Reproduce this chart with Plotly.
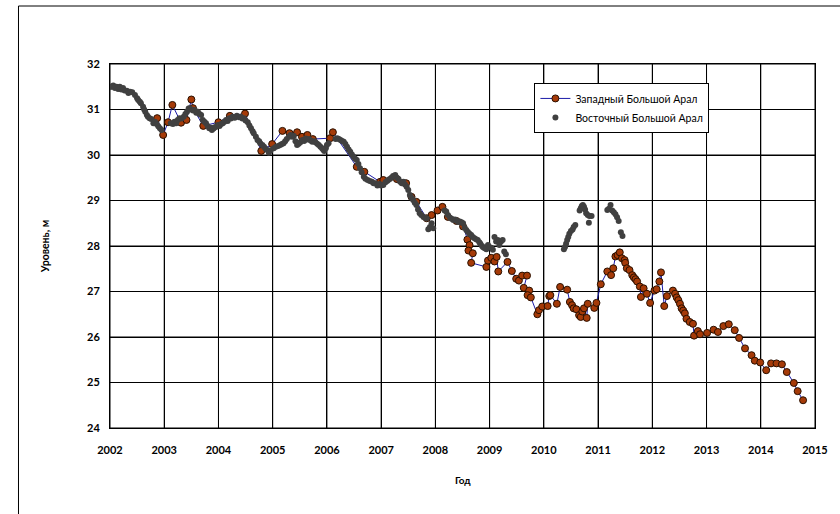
import plotly.graph_objects as go

# Западный Большой Арал: date (decimal year) and water level, m
west_year = [
    2002.87, 2002.98, 2003.07, 2003.15, 2003.31, 2003.41, 2003.50, 2003.53, 2003.72, 2004.00,
    2004.21, 2004.49, 2004.79, 2004.99, 2005.18, 2005.31, 2005.45, 2005.54, 2005.64, 2005.74,
    2006.06, 2006.11, 2006.55, 2006.69, 2006.98, 2007.04, 2007.29, 2007.46, 2007.56, 2007.65,
    2007.84, 2007.93, 2008.04, 2008.13, 2008.23, 2008.39, 2008.51, 2008.59, 2008.63, 2008.61,
    2008.69, 2008.66, 2008.94, 2008.97, 2009.03, 2009.09, 2009.13, 2009.16, 2009.33, 2009.41,
    2009.49, 2009.54, 2009.60, 2009.69, 2009.63, 2009.73, 2009.70, 2009.76, 2009.88, 2009.91,
    2009.97, 2010.07, 2010.10, 2010.12, 2010.24, 2010.30, 2010.43, 2010.48, 2010.52, 2010.55,
    2010.60, 2010.65, 2010.68, 2010.71, 2010.74, 2010.79, 2010.81, 2010.93, 2010.97, 2011.05,
    2011.17, 2011.24, 2011.28, 2011.32, 2011.36, 2011.40, 2011.44, 2011.49, 2011.50, 2011.53,
    2011.58, 2011.63, 2011.66, 2011.69, 2011.72, 2011.77, 2011.79, 2011.84, 2011.90, 2011.96,
    2012.04, 2012.08, 2012.13, 2012.16, 2012.22, 2012.27, 2012.38, 2012.42, 2012.45, 2012.48,
    2012.51, 2012.54, 2012.57, 2012.60, 2012.63, 2012.69, 2012.75, 2012.77, 2012.84, 2012.88,
    2013.01, 2013.13, 2013.21, 2013.31, 2013.41, 2013.52, 2013.60, 2013.71, 2013.83, 2013.89,
    2013.99, 2014.10, 2014.19, 2014.29, 2014.39, 2014.48, 2014.61, 2014.68, 2014.78,
]
west_level = [
    30.81, 30.44, 30.72, 31.10, 30.71, 30.77, 31.22, 31.03, 30.64, 30.72,
    30.86, 30.91, 30.09, 30.24, 30.53, 30.48, 30.50, 30.40, 30.44, 30.35,
    30.37, 30.50, 29.74, 29.63, 29.41, 29.45, 29.47, 29.38, 29.08, 28.97,
    28.61, 28.68, 28.78, 28.86, 28.64, 28.55, 28.43, 28.14, 28.02, 27.90,
    27.84, 27.63, 27.54, 27.68, 27.74, 27.66, 27.76, 27.44, 27.65, 27.45,
    27.28, 27.24, 27.35, 27.35, 27.08, 27.02, 26.92, 26.87, 26.50, 26.59,
    26.67, 26.68, 26.90, 26.92, 26.73, 27.10, 27.04, 26.77, 26.70, 26.63,
    26.61, 26.48, 26.44, 26.56, 26.63, 26.42, 26.73, 26.64, 26.75, 27.16,
    27.44, 27.36, 27.51, 27.77, 27.80, 27.86, 27.73, 27.69, 27.63, 27.51,
    27.47, 27.36, 27.31, 27.27, 27.22, 27.11, 26.88, 27.07, 26.95, 26.75,
    27.02, 27.05, 27.22, 27.42, 26.68, 26.90, 27.02, 26.95, 26.87, 26.81,
    26.73, 26.63, 26.58, 26.52, 26.40, 26.33, 26.29, 26.03, 26.13, 26.06,
    26.09, 26.16, 26.11, 26.24, 26.28, 26.15, 25.98, 25.75, 25.60, 25.48,
    25.44, 25.27, 25.42, 25.42, 25.40, 25.23, 24.99, 24.81, 24.61,
]

# Восточный Большой Арал: date (decimal year) and water level, m
east_year = [
    2002.00, 2002.03, 2002.06, 2002.09, 2002.12, 2002.15, 2002.18, 2002.21, 2002.24, 2002.27,
    2002.31, 2002.34, 2002.37, 2002.41, 2002.46, 2002.50, 2002.52, 2002.55, 2002.57, 2002.61,
    2002.63, 2002.65, 2002.68, 2002.70, 2002.73, 2002.76, 2002.80, 2002.83, 2002.86, 2002.89,
    2002.92, 2002.95, 2003.12, 2003.16, 2003.19, 2003.22, 2003.25, 2003.28, 2003.32, 2003.36,
    2003.39, 2003.42, 2003.45, 2003.47, 2003.50, 2003.53, 2003.56, 2003.59, 2003.62, 2003.65,
    2003.68, 2003.71, 2003.74, 2003.77, 2003.80, 2003.83, 2003.86, 2003.88, 2003.91, 2003.93,
    2003.96, 2003.99, 2004.02, 2004.05, 2004.08, 2004.11, 2004.14, 2004.17, 2004.20, 2004.23,
    2004.26, 2004.30, 2004.34, 2004.38, 2004.41, 2004.44, 2004.47, 2004.50, 2004.54, 2004.57,
    2004.60, 2004.63, 2004.65, 2004.69, 2004.72, 2004.75, 2004.77, 2004.81, 2004.84, 2004.87,
    2004.90, 2004.93, 2004.96, 2005.02, 2005.06, 2005.10, 2005.14, 2005.17, 2005.20, 2005.23,
    2005.26, 2005.30, 2005.33, 2005.36, 2005.39, 2005.42, 2005.45, 2005.48, 2005.51, 2005.55,
    2005.58, 2005.61, 2005.64, 2005.67, 2005.70, 2005.73, 2005.76, 2005.79, 2005.82, 2005.85,
    2005.88, 2005.91, 2005.93, 2005.95, 2005.98, 2006.00, 2006.03, 2006.16, 2006.19, 2006.22,
    2006.25, 2006.28, 2006.31, 2006.34, 2006.37, 2006.40, 2006.43, 2006.46, 2006.49, 2006.52,
    2006.55, 2006.58, 2006.61, 2006.64, 2006.68, 2006.71, 2006.75, 2006.79, 2006.83, 2006.86,
    2006.89, 2006.93, 2006.97, 2007.00, 2007.04, 2007.08, 2007.11, 2007.13, 2007.16, 2007.19,
    2007.22, 2007.26, 2007.29, 2007.32, 2007.35, 2007.38, 2007.41, 2007.44, 2007.47, 2007.50,
    2007.53, 2007.56, 2007.59, 2007.62, 2007.65, 2007.68, 2007.71, 2007.74, 2007.78, 2007.81,
    2007.84, 2007.87, 2007.90, 2007.93, 2007.96, 2008.17, 2008.20, 2008.23, 2008.27, 2008.30,
    2008.33, 2008.36, 2008.39, 2008.42, 2008.45, 2008.48, 2008.51, 2008.54, 2008.57, 2008.60,
    2008.63, 2008.66, 2008.69, 2008.72, 2008.75, 2008.78, 2008.81, 2008.83, 2008.86, 2008.88,
    2008.91, 2008.94, 2008.97, 2009.00, 2009.03, 2009.06, 2009.09, 2009.12, 2009.15, 2009.18,
    2009.21, 2009.24, 2009.27, 2009.30,
    2010.37, 2010.39, 2010.41, 2010.43, 2010.45, 2010.47, 2010.50, 2010.53, 2010.55, 2010.58,
    2010.66, 2010.68, 2010.70, 2010.72, 2010.74, 2010.76, 2010.78, 2010.81, 2010.84, 2010.88,
    2010.83, 2011.17, 2011.20, 2011.23, 2011.26, 2011.29, 2011.32, 2011.35, 2011.38, 2011.42,
    2011.45,
]
east_level = [
    31.50, 31.50, 31.53, 31.47, 31.50, 31.45, 31.50, 31.44, 31.47, 31.42,
    31.41, 31.36, 31.39, 31.38, 31.32, 31.25, 31.21, 31.17, 31.14, 31.06,
    31.00, 30.95, 30.88, 30.84, 30.81, 30.79, 30.70, 30.73, 30.68, 30.63,
    30.59, 30.55, 30.70, 30.68, 30.73, 30.70, 30.77, 30.81, 30.80, 30.84,
    30.90, 30.95, 31.02, 31.03, 31.00, 30.98, 30.99, 30.93, 30.95, 30.90,
    30.88, 30.77, 30.73, 30.70, 30.64, 30.59, 30.60, 30.55, 30.58, 30.61,
    30.62, 30.66, 30.64, 30.68, 30.70, 30.73, 30.77, 30.75, 30.81, 30.80,
    30.84, 30.82, 30.86, 30.83, 30.84, 30.80, 30.81, 30.76, 30.72, 30.65,
    30.59, 30.52, 30.48, 30.40, 30.33, 30.30, 30.26, 30.22, 30.18, 30.14,
    30.11, 30.05, 30.10, 30.15, 30.18, 30.20, 30.22, 30.24, 30.26, 30.30,
    30.35, 30.40, 30.44, 30.40, 30.42, 30.30, 30.22, 30.25, 30.28, 30.33,
    30.31, 30.36, 30.34, 30.35, 30.32, 30.29, 30.30, 30.28, 30.25, 30.22,
    30.18, 30.15, 30.12, 30.09, 30.15, 30.22, 30.26, 30.35, 30.37, 30.35,
    30.33, 30.31, 30.29, 30.24, 30.18, 30.12, 30.07, 30.01, 29.96, 29.92,
    29.89, 29.80, 29.71, 29.62, 29.52, 29.48, 29.45, 29.43, 29.41, 29.38,
    29.38, 29.33, 29.36, 29.33, 29.34, 29.40, 29.43, 29.45, 29.47, 29.50,
    29.54, 29.56, 29.50, 29.47, 29.41, 29.38, 29.41, 29.35, 29.30, 29.23,
    29.12, 29.06, 29.01, 28.95, 28.90, 28.80, 28.72, 28.68, 28.64, 28.62,
    28.61, 28.37, 28.42, 28.50, 28.39, 28.78, 28.76, 28.68, 28.62, 28.60,
    28.57, 28.58, 28.56, 28.53, 28.54, 28.52, 28.50, 28.40, 28.35, 28.31,
    28.27, 28.24, 28.20, 28.17, 28.15, 28.13, 28.08, 28.05, 28.00, 27.97,
    27.95, 27.93, 28.02, 27.97, 27.96, 27.92, 28.20, 28.10, 28.13, 28.02,
    28.10, 28.13, 27.88, 27.82,
    27.93, 27.98, 28.05, 28.13, 28.20, 28.27, 28.33, 28.36, 28.42, 28.46,
    28.78, 28.83, 28.88, 28.90, 28.86, 28.80, 28.72, 28.68, 28.66, 28.66,
    28.51, 28.79, 28.82, 28.90, 28.78, 28.74, 28.70, 28.63, 28.55, 28.30,
    28.22,
]

year_ticks = list(range(2002, 2016))
level_ticks = list(range(24, 33))

FONT = "Lato"
GRID = "#000000"

fig = go.Figure()

fig.add_trace(go.Scatter(
    x=west_year, y=west_level,
    mode="lines+markers",
    name="Западный Большой Арал",
    legendgroup="west",
    line=dict(color="#1a1aa8", width=1),
    marker=dict(size=7, color="#a53a08", line=dict(color="#2a1000", width=1)),
))

fig.add_trace(go.Scatter(
    x=east_year, y=east_level,
    mode="markers",
    name="Восточный Большой Арал",
    legendgroup="east",
    marker=dict(size=6, color="#404040"),
))

axis_common = dict(
    showgrid=True,
    gridcolor=GRID,
    gridwidth=1,
    showline=True,
    linecolor="#000000",
    linewidth=1,
    mirror=True,
    zeroline=False,
    ticks="",
    tickfont=dict(family=FONT, size=11, color="#000000", weight="bold"),
)

fig.update_xaxes(
    range=[2002, 2015],
    tickmode="array",
    tickvals=year_ticks,
    ticktext=[str(y) for y in year_ticks],
    ticklabelstandoff=12,
    **axis_common,
)
fig.update_yaxes(
    range=[24, 32],
    tickmode="array",
    tickvals=level_ticks,
    ticktext=[str(v) for v in level_ticks],
    ticklabelstandoff=7,
    **axis_common,
)

# grid: one vertical line per year tick, one horizontal line per level tick
for yr in year_ticks:
    fig.add_shape(type="line", xref="x", yref="paper", x0=yr, x1=yr, y0=0, y1=1,
                  line=dict(color=GRID, width=1), layer="below")
for lv in level_ticks:
    fig.add_shape(type="line", xref="paper", yref="y", x0=0, x1=1, y0=lv, y1=lv,
                  line=dict(color=GRID, width=1), layer="below")

# axis titles
fig.add_annotation(
    text="Уровень, м", xref="paper", yref="paper",
    x=-0.0917, y=0.5, textangle=-90, showarrow=False,
    font=dict(family=FONT, size=10.5, color="#000000", weight="bold"),
    xanchor="center", yanchor="middle",
)
fig.add_annotation(
    text="Год", xref="paper", yref="paper",
    x=0.5, y=-0.143, showarrow=False,
    font=dict(family=FONT, size=10, color="#000000", weight="bold"),
    xanchor="center", yanchor="middle",
)

# outer chart frame
fig.add_shape(
    type="rect", xref="paper", yref="paper",
    x0=-0.1298, x1=1.2, y0=-0.5, y1=1.1593,
    line=dict(color="#000000", width=1),
    fillcolor="rgba(0,0,0,0)", layer="above",
)

fig.update_layout(
    width=840, height=514,
    autosize=False,
    margin=dict(l=110, r=21, t=64, b=86),
    paper_bgcolor="#ffffff",
    plot_bgcolor="#ffffff",
    showlegend=True,
    legend=dict(
        x=0.602, y=0.948, xanchor="left", yanchor="top",
        bgcolor="#ffffff",
        bordercolor="#000000", borderwidth=1,
        font=dict(family=FONT, size=10.5, color="#000000"),
        traceorder="grouped",
        tracegroupgap=0,
        itemwidth=30,
    ),
)

fig.write_html("out.html")
